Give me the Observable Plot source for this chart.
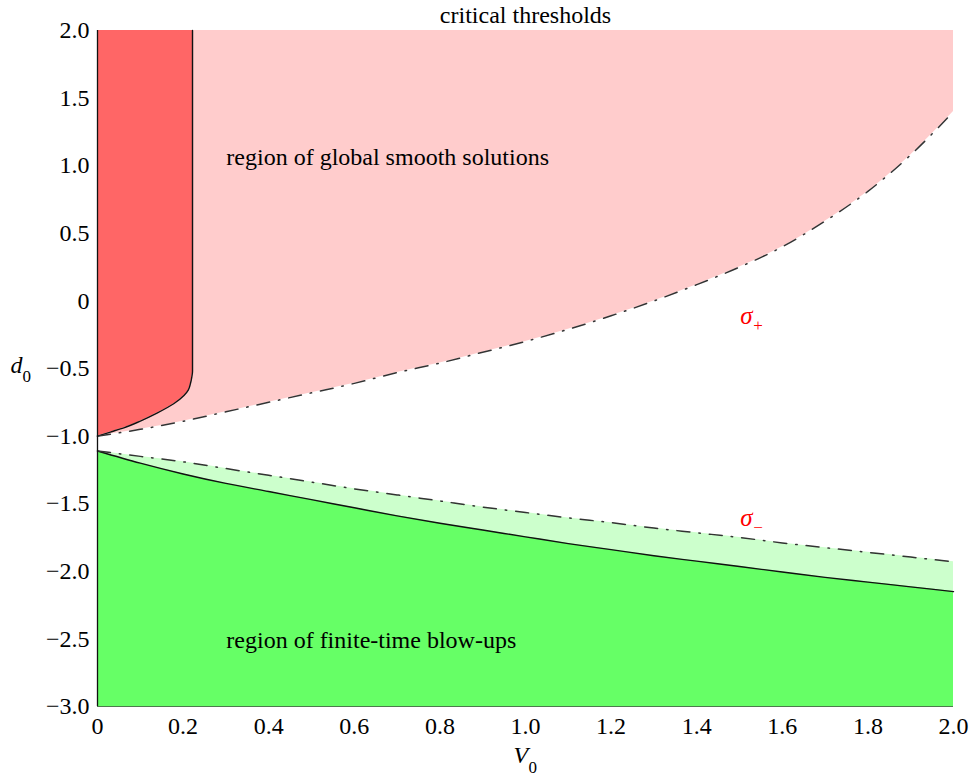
<!DOCTYPE html>
<html><head><meta charset="utf-8">
<script src="https://cdn.jsdelivr.net/npm/d3@7"></script>
<script src="https://cdn.jsdelivr.net/npm/@observablehq/plot@0.6"></script>
<style>body{margin:0;background:#fff}</style>
</head><body><div id="chart"></div>
<script>
// V0 grid
const V = [0,0.1,0.2,0.3,0.4,0.5,0.6,0.7,0.8,0.9,1.0,1.1,1.2,1.3,1.4,1.5,1.6,1.7,1.8,1.9,2.0];
// sigma+ threshold (dash-dot, upper)
const sigmaPlus = [-1.00,-0.95,-0.89,-0.82,-0.75,-0.68,-0.61,-0.53,-0.46,-0.38,-0.30,-0.21,-0.11,0.00,0.12,0.25,0.40,0.59,0.81,1.08,1.40];
// sigma- threshold (dash-dot, lower)
const sigmaMinus = [-1.11,-1.15,-1.19,-1.24,-1.29,-1.34,-1.39,-1.435,-1.48,-1.525,-1.565,-1.605,-1.64,-1.68,-1.715,-1.75,-1.79,-1.825,-1.86,-1.895,-1.93];
// blow-up boundary (solid, lower)
const blowup = [-1.11,-1.20,-1.28,-1.35,-1.41,-1.47,-1.53,-1.59,-1.645,-1.695,-1.745,-1.795,-1.84,-1.885,-1.925,-1.965,-2.005,-2.045,-2.08,-2.115,-2.15];
// global smooth boundary (solid, upper-left)
const redY = [-1.0,-0.97,-0.939,-0.889,-0.83,-0.761,-0.70,-0.66,-0.613,-0.56,-0.52,2.0];
const redX = [0,0.03,0.0615,0.10,0.139,0.178,0.202,0.212,0.217,0.2205,0.222,0.222];
// axes
const xDomain = [0,2];
const yDomain = [-3,2];
const xTicks = [0,0.2,0.4,0.6,0.8,1.0,1.2,1.4,1.6,1.8,2.0];
const yTicks = [-3,-2.5,-2,-1.5,-1,-0.5,0,0.5,1,1.5,2];
// annotations
const regionLabels = [
  {x:0.301, y:1.06, text:"region of global smooth solutions"},
  {x:0.301, y:-2.51, text:"region of finite-time blow-ups"}
];
const sigmaLabels = [
  {x:1.502, y:-0.11, sub:"+"},
  {x:1.502, y:-1.604, sub:"\u2212"}
];

const grid = V.map((v,i)=>({v, sp:sigmaPlus[i], sm:sigmaMinus[i], bu:blowup[i]}));
const red = redX.map((x,i)=>({x, y:redY[i]}));
const fmt = d => d === 0 ? "0" : d.toFixed(1).replace("-", "\u2212");
const dash = "13,9,1.5,9";

const chart = Plot.plot({
  width:973, height:777,
  marginLeft:97, marginRight:20, marginTop:30, marginBottom:71,
  style:{fontFamily:"'Liberation Serif', 'Times New Roman', serif", fontSize:"24px", color:"#000", background:"#fff"},
  x:{domain:xDomain, ticks:xTicks, tickFormat:fmt, tickSize:0, tickPadding:10, label:null},
  y:{domain:yDomain, ticks:yTicks, tickFormat:fmt, tickSize:0, tickPadding:8, label:null},
  marks:[
    Plot.areaY(grid,{x:"v", y1:"sp", y2:yDomain[1], fill:"#FFCCCC", curve:"monotone-x"}),
    Plot.areaX(red,{y:"y", x1:xDomain[0], x2:"x", fill:"#FF6666", curve:"monotone-y"}),
    Plot.areaY(grid,{x:"v", y1:"bu", y2:"sm", fill:"#CCFFCC", curve:"monotone-x"}),
    Plot.areaY(grid,{x:"v", y1:yDomain[0], y2:"bu", fill:"#66FF66", curve:"monotone-x"}),
    Plot.line(red,{x:"x", y:"y", stroke:"#111", strokeWidth:1.4, curve:"monotone-y"}),
    Plot.line(grid,{x:"v", y:"bu", stroke:"#111", strokeWidth:1.4, curve:"monotone-x"}),
    Plot.line(grid,{x:"v", y:"sp", stroke:"#333", strokeWidth:1.5, strokeDasharray:dash, curve:"monotone-x"}),
    Plot.line(grid,{x:"v", y:"sm", stroke:"#333", strokeWidth:1.5, strokeDasharray:dash, curve:"monotone-x"}),
    Plot.ruleX([xDomain[0]],{stroke:"#111", strokeWidth:1.3}),
    Plot.ruleY([yDomain[0]],{stroke:"#4d7a4d", strokeWidth:1.2}),
    Plot.text(regionLabels,{x:"x", y:"y", text:"text", textAnchor:"start", fill:"#000"}),
    Plot.text(sigmaLabels,{x:"x", y:"y", text:()=>"\u03C3", textAnchor:"start", fill:"#FF0000", fontStyle:"italic", fontSize:25}),
    Plot.text(sigmaLabels,{x:"x", y:"y", text:"sub", textAnchor:"start", fill:"#FF0000", fontSize:17, dx:13, dy:10}),
    Plot.text(["critical thresholds"],{frameAnchor:"top", lineAnchor:"middle", dy:-15, fill:"#000"}),
    Plot.text(["d"],{frameAnchor:"left", lineAnchor:"middle", textAnchor:"start", dx:-87, dy:-3, fontStyle:"italic", fill:"#000"}),
    Plot.text(["0"],{frameAnchor:"left", lineAnchor:"middle", textAnchor:"start", dx:-75, dy:8, fontSize:17, fill:"#000"}),
    Plot.text(["V"],{frameAnchor:"bottom", lineAnchor:"middle", textAnchor:"start", dx:-12, dy:49, fontStyle:"italic", fill:"#000"}),
    Plot.text(["0"],{frameAnchor:"bottom", lineAnchor:"middle", textAnchor:"start", dx:3, dy:61, fontSize:17, fill:"#000"})
  ]
});
document.getElementById("chart").appendChild(chart);
</script>
</body></html>
